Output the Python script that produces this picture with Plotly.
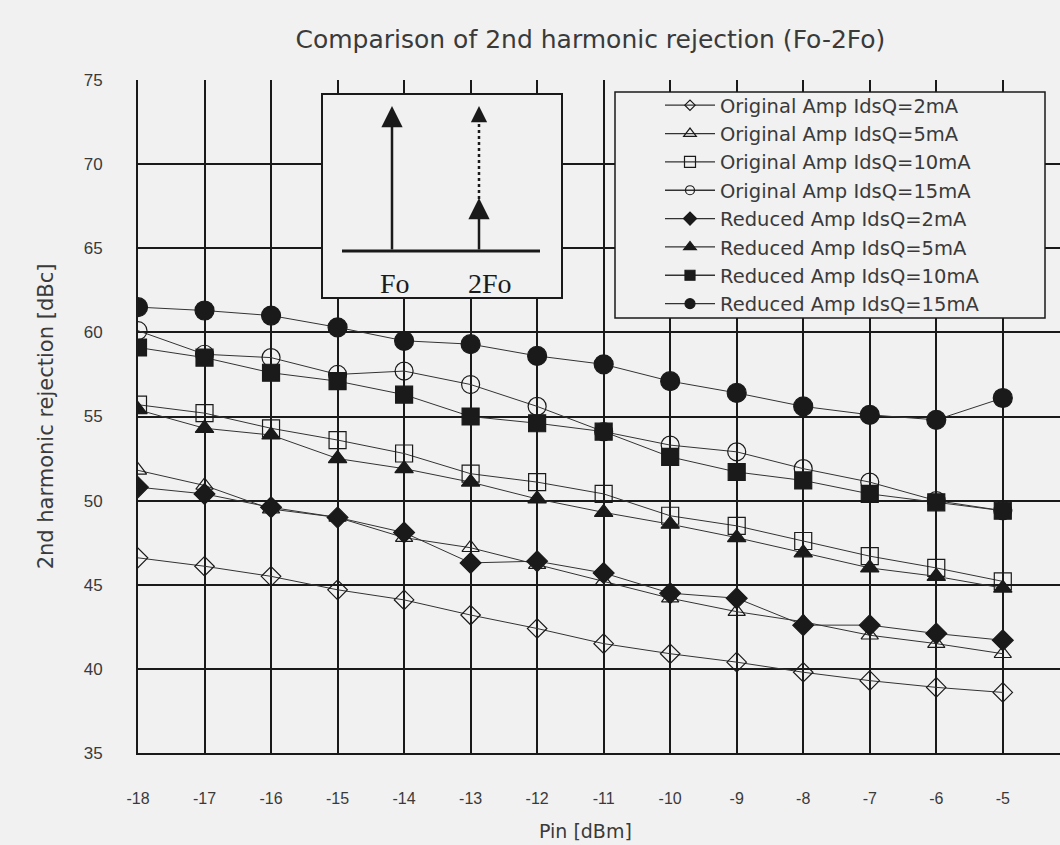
import plotly.graph_objects as go

pin = [-18, -17, -16, -15, -14, -13, -12, -11, -10, -9, -8, -7, -6, -5]
y_ticks = [35, 40, 45, 50, 55, 60, 65, 70, 75]

orig_2mA = [46.6, 46.1, 45.5, 44.7, 44.1, 43.2, 42.4, 41.5, 40.9, 40.4, 39.8, 39.3, 38.9, 38.6]
orig_5mA = [51.8, 50.9, 49.5, 49.0, 47.8, 47.2, 46.2, 45.2, 44.2, 43.4, 42.8, 42.0, 41.5, 40.9]
orig_10mA = [55.7, 55.2, 54.3, 53.6, 52.8, 51.6, 51.1, 50.4, 49.1, 48.5, 47.6, 46.7, 46.0, 45.2]
orig_15mA = [60.1, 58.7, 58.5, 57.5, 57.7, 56.9, 55.6, 54.1, 53.3, 52.9, 51.9, 51.1, 50.0, 49.4]
red_2mA = [50.8, 50.4, 49.6, 49.0, 48.1, 46.3, 46.4, 45.7, 44.5, 44.2, 42.6, 42.6, 42.1, 41.7]
red_5mA = [55.4, 54.3, 53.9, 52.5, 51.9, 51.1, 50.1, 49.3, 48.6, 47.8, 46.9, 46.0, 45.5, 44.8]
red_10mA = [59.1, 58.5, 57.6, 57.1, 56.3, 55.0, 54.6, 54.1, 52.6, 51.7, 51.2, 50.4, 49.9, 49.4]
red_15mA = [61.5, 61.3, 61.0, 60.3, 59.5, 59.3, 58.6, 58.1, 57.1, 56.4, 55.6, 55.1, 54.8, 56.1]

names = [
    "Original Amp IdsQ=2mA", "Original Amp IdsQ=5mA", "Original Amp IdsQ=10mA", "Original Amp IdsQ=15mA",
    "Reduced Amp IdsQ=2mA", "Reduced Amp IdsQ=5mA", "Reduced Amp IdsQ=10mA", "Reduced Amp IdsQ=15mA",
]
series = [orig_2mA, orig_5mA, orig_10mA, orig_15mA, red_2mA, red_5mA, red_10mA, red_15mA]
symbols = ["diamond-open", "triangle-up-open", "square-open", "circle-open",
           "diamond", "triangle-up", "square", "circle"]
sizes = [15, 15, 17, 18, 16, 16, 17, 19]
legend_sizes = [8, 11, 11, 9, 10, 11, 10, 10]

BG = "#f1f1f1"
INK = "#1a1a1a"
TXT = "#3a3a3a"
FONT = "Liberation Sans"
WIDE = "DejaVu Sans"

fig = go.Figure()
for name, ys, sym, sz in zip(names, series, symbols, sizes):
    fig.add_trace(go.Scatter(
        x=pin, y=ys, name=name, mode="lines+markers", showlegend=False,
        line=dict(color="#333333", width=1),
        marker=dict(symbol=sym, size=sz, color=INK, line=dict(color=INK, width=1.2)),
    ))
# legend entries with the small markers seen in the legend box
for name, sym, sz in zip(names, symbols, legend_sizes):
    fig.add_trace(go.Scatter(
        x=[None], y=[None], name=name, mode="lines+markers",
        line=dict(color="#333333", width=1.3),
        marker=dict(symbol=sym, size=sz, color=INK, line=dict(color=INK, width=1.2)),
    ))

# helpers: pixel position -> paper fraction of the plot area
def px(x):
    return (x - 138) / 922.0

def py(y):
    return (753 - y) / 673.0

shapes = [
    # legend frame
    dict(type="rect", xref="paper", yref="paper", x0=px(615), x1=px(1045), y0=py(318), y1=py(92),
         line=dict(color=INK, width=1.5), fillcolor=BG, layer="above"),
    # inset frame
    dict(type="rect", xref="paper", yref="paper", x0=px(322), x1=px(562), y0=py(298), y1=py(94),
         line=dict(color=INK, width=2), fillcolor=BG, layer="above"),
    dict(type="line", xref="paper", yref="paper", x0=px(342), x1=px(540), y0=py(251), y1=py(251),
         line=dict(color=INK, width=3), layer="above"),
    dict(type="line", xref="paper", yref="paper", x0=px(479), x1=px(479), y0=py(205), y1=py(120),
         line=dict(color=INK, width=2.5, dash="dot"), layer="above"),
]
annotations = [
    dict(xref="paper", yref="paper", x=px(392), y=py(106),
         ax=0, ay=145, showarrow=True, arrowhead=2, arrowsize=1.7, arrowwidth=2.5,
         arrowcolor=INK, text=""),
    dict(xref="paper", yref="paper", x=px(479), y=py(198),
         ax=0, ay=53, showarrow=True, arrowhead=2, arrowsize=1.7, arrowwidth=2.5,
         arrowcolor=INK, text=""),
    dict(xref="paper", yref="paper", x=px(479), y=py(106),
         ax=0, ay=16, showarrow=True, arrowhead=2, arrowsize=1.8, arrowwidth=1.8,
         arrowcolor=INK, text=""),
    dict(xref="paper", yref="paper", x=px(395), y=py(283), text="Fo", showarrow=False,
         yanchor="middle", xanchor="center",
         font=dict(family="Liberation Serif", size=28, color=INK)),
    dict(xref="paper", yref="paper", x=px(490), y=py(283), text="2Fo", showarrow=False,
         yanchor="middle", xanchor="center",
         font=dict(family="Liberation Serif", size=28, color=INK)),
    # x-axis title (sits left of centre in the original)
    dict(xref="paper", yref="paper", x=px(585), y=py(831), text="Pin [dBm]", showarrow=False,
         yanchor="middle", xanchor="center",
         font=dict(family=WIDE, size=19, color=TXT)),
]

fig.update_layout(
    width=1060, height=845,
    margin=dict(l=138, r=0, t=80, b=92),
    paper_bgcolor=BG, plot_bgcolor=BG,
    font=dict(family=FONT, color=TXT),
    title=dict(text="Comparison of 2nd harmonic rejection (Fo-2Fo)", x=0.557, xanchor="center",
               y=0.953, yanchor="middle", font=dict(family=WIDE, size=25, color=TXT)),
    xaxis=dict(range=[-18, -4.14], tickmode="array", tickvals=pin, ticktext=[str(v) for v in pin],
               showgrid=True, gridcolor=INK, gridwidth=1.5, zeroline=False,
               showline=True, linecolor=INK, linewidth=2, ticks="", ticklabelstandoff=30,
               tickfont=dict(size=16, color=TXT)),
    yaxis=dict(range=[35, 75], tickmode="array", tickvals=y_ticks,
               showgrid=True, gridcolor=INK, gridwidth=1.5, zeroline=False,
               showline=True, linecolor=INK, linewidth=2, ticks="", ticklabelstandoff=30,
               tickfont=dict(size=17, color=TXT),
               title=dict(text="2nd harmonic rejection [dBc]", font=dict(family=WIDE, size=21, color=TXT),
                          standoff=24)),
    legend=dict(x=px(660), y=py(86), xanchor="left", yanchor="top",
                bgcolor="rgba(0,0,0,0)", borderwidth=0,
                font=dict(family=WIDE, size=19.5, color=TXT), itemwidth=50),
    shapes=shapes, annotations=annotations,
    showlegend=True,
)

fig.write_html("out.html", config={"displayModeBar": False},
               post_script="document.body.style.margin='0';document.body.style.overflow='hidden';")
